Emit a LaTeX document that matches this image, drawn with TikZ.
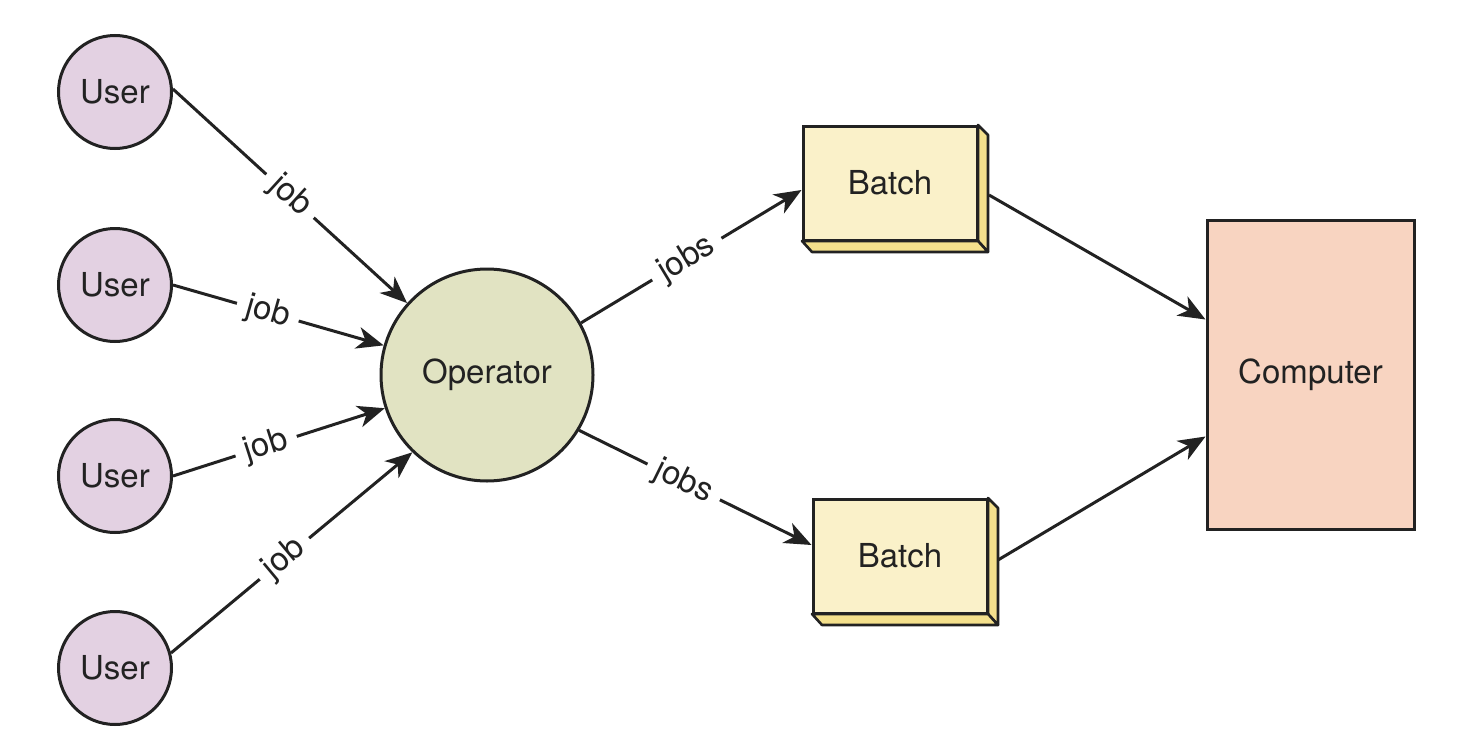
\documentclass[tikz,border=0pt]{standalone}
\usepackage{fontspec}
\setmainfont{TeX Gyre Heros}
\usetikzlibrary{arrows.meta}
\definecolor{userfill}{HTML}{E3D1E2}
\definecolor{opfill}{HTML}{E1E3C2}
\definecolor{batchfill}{HTML}{FAF1C9}
\definecolor{batchside}{HTML}{F4E08C}
\definecolor{compfill}{HTML}{F8D4C1}
\definecolor{ink}{HTML}{222222}
\begin{document}
\begin{tikzpicture}[x=1pt,y=-1pt,
  every node/.style={font=\fontsize{33}{40}\selectfont, text=ink},
  userbox/.style={circle, draw=ink, line width=3pt, fill=userfill, minimum size=113pt, inner sep=0pt},
  opbox/.style={circle, draw=ink, line width=3pt, fill=opfill, minimum size=212pt, inner sep=0pt},
  batchbox/.style={rectangle, draw=ink, line width=3pt, fill=batchfill, minimum width=174pt, minimum height=114pt, inner sep=0pt},
  compbox/.style={rectangle, draw=ink, line width=3pt, fill=compfill, minimum width=207pt, minimum height=309pt, inner sep=0pt},
  depth/.style={draw=ink, line width=2.6pt, fill=batchside, line join=round},
  conn/.style={draw=ink, line width=3pt, -{Stealth[length=27pt, width=22pt, inset=8pt]}},
  lbl/.style={sloped, fill=white, inner xsep=10pt, inner ysep=4pt}
]
\useasboundingbox (0,0) rectangle (1458,752);

\node[userbox] (u1) at (115,92) {User};
\node[userbox] (u2) at (115,285) {User};
\node[userbox] (u3) at (115,476) {User};
\node[userbox] (u4) at (115,668) {User};

\node[opbox] (op) at (487,375) {Operator};

% batch boxes with depth faces
\coordinate (b1c) at (890,183);
\coordinate (b2c) at (900,556);
\fill[batchside] (978,125) -- (988,135) -- (988,252) -- (812,252) -- (802,241) -- (978,241) -- cycle;
\draw[depth] (978,125) -- (988,135) -- (988,252) -- (978,241) -- cycle;
\draw[depth] (802,241) -- (812,252) -- (988,252) -- (978,241) -- cycle;
\node[batchbox] (b1) at (b1c) {Batch};

\fill[batchside] (988,498) -- (998,508) -- (998,625) -- (822,625) -- (812,614) -- (988,614) -- cycle;
\draw[depth] (988,498) -- (998,508) -- (998,625) -- (988,614) -- cycle;
\draw[depth] (812,614) -- (822,625) -- (998,625) -- (988,614) -- cycle;
\node[batchbox] (b2) at (b2c) {Batch};

\node[compbox] (comp) at (1310.5,374.5) {Computer};

\coordinate (b1out) at (989,195);
\coordinate (b2out) at (998,560);

\draw[conn] (u1.3) -- node[lbl, pos=0.5] {job} (op.138);
\draw[conn] (u2.east) -- node[lbl, pos=0.45] {job} (op.164);
\draw[conn] (u3.east) -- node[lbl, pos=0.44] {job} (op.198);
\draw[conn] (u4.15) -- node[lbl, pos=0.47] {job} (op.226);

\draw[conn] (op.29) -- node[lbl, pos=0.48] {jobs} ([yshift=-7pt]b1.west);
\draw[conn] (op.-31) -- node[lbl, pos=0.45] {jobs} ([yshift=11pt]b2.west);

\draw[conn] (b1out) -- ([yshift=55pt]comp.west);
\draw[conn] (b2out) -- ([yshift=-62pt]comp.west);
\end{tikzpicture}
\end{document}
